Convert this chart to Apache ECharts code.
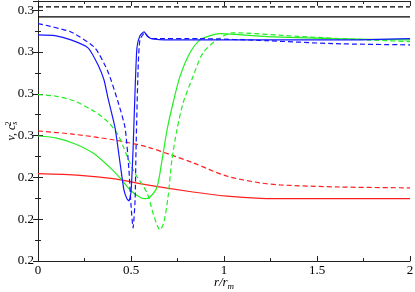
<!DOCTYPE html>
<html><head><meta charset="utf-8">
<script src="https://cdn.jsdelivr.net/npm/echarts@6/dist/echarts.min.js"></script>
<style>html,body{margin:0;padding:0;background:#fff}#c{width:415px;height:292px}</style>
</head><body><div id="c"></div>
<script>
// x tick labels and y tick labels (as printed in the reference)
const xTickLabels = ['0', '0.5', '1', '1.5', '2'];
const yTickLabels = ['0.2', '0.2', '0.2', '0.3', '0.3', '0.3', '0.3'];

// Black reference lines
const blackSolidX = [0, 2];
const blackSolidY = [0.2784, 0.2784];
const blackDashX = [0, 2];
const blackDashY = [0.2808, 0.2808];

// Blue solid
const blueSolidX = [0, 0.091, 0.177, 0.269, 0.323, 0.355, 0.376, 0.414, 0.441, 0.462, 0.478, 0.489, 0.5, 0.511, 0.522, 0.532, 0.548, 0.570, 0.586, 0.608, 0.710, 1.194, 1.677, 2.0];
const blueSolidY = [0.2741, 0.2739, 0.2729, 0.2710, 0.2669, 0.2633, 0.2590, 0.2519, 0.2435, 0.2370, 0.2349, 0.2344, 0.2365, 0.2466, 0.2610, 0.2710, 0.2739, 0.2748, 0.2739, 0.2732, 0.2729, 0.2729, 0.2729, 0.2732];

// Blue dashed
const blueDashX = [0, 0.177, 0.306, 0.376, 0.430, 0.468, 0.489, 0.5, 0.511, 0.522, 0.527, 0.538, 0.548, 0.575, 0.591, 0.613, 0.871, 1.231, 1.586, 2.0];
const blueDashY = [0.2768, 0.2748, 0.2710, 0.2653, 0.2581, 0.2519, 0.2418, 0.2334, 0.2279, 0.2346, 0.2466, 0.2657, 0.2729, 0.2746, 0.2737, 0.2732, 0.2732, 0.2727, 0.2720, 0.2717];

// Green solid
const greenSolidX = [0, 0.1, 0.2, 0.3, 0.4, 0.45, 0.5, 0.55, 0.575, 0.602, 0.640, 0.667, 0.694, 0.726, 0.763, 0.817, 0.871, 0.925, 0.978, 1.231, 1.586, 2.0];
const greenSolidY = [0.2499, 0.2494, 0.2480, 0.2457, 0.2418, 0.2394, 0.2368, 0.2352, 0.2349, 0.2353, 0.2377, 0.2442, 0.2514, 0.2578, 0.2641, 0.2698, 0.2729, 0.2739, 0.2744, 0.2737, 0.2732, 0.2729];

// Green dashed
const greenDashX = [0, 0.1, 0.2, 0.306, 0.376, 0.430, 0.457, 0.511, 0.586, 0.618, 0.640, 0.656, 0.677, 0.699, 0.720, 0.747, 0.780, 0.833, 0.887, 0.962, 1.048, 1.409, 1.769, 2.0];
const greenDashY = [0.2598, 0.2594, 0.2582, 0.2557, 0.2533, 0.2502, 0.2475, 0.2418, 0.2363, 0.2315, 0.2286, 0.2274, 0.2293, 0.2353, 0.2442, 0.2514, 0.2578, 0.2641, 0.2698, 0.2729, 0.2746, 0.2737, 0.2729, 0.2725];

// Red dashed
const redDashX = [0, 0.177, 0.403, 0.586, 0.726, 0.833, 1.016, 1.194, 1.301, 1.624, 2.0];
const redDashY = [0.2511, 0.2504, 0.2490, 0.2473, 0.2452, 0.2435, 0.2403, 0.2387, 0.2382, 0.2377, 0.2375];

// Red solid
const redSolidX = [0, 0.226, 0.403, 0.586, 0.833, 1.016, 1.194, 1.409, 2.0];
const redSolidY = [0.2409, 0.2405, 0.2397, 0.2382, 0.2365, 0.2355, 0.2350, 0.2349, 0.2349];

const zip = (xs, ys) => xs.map((x, i) => [x, ys[i]]);
const FONT = 'Liberation Serif';
const AX = '#222';

function line(xs, ys, color, dashed, smooth) {
  return {
    type: 'line', data: zip(xs, ys), showSymbol: false, symbol: 'none',
    smooth: smooth, silent: true, animation: false,
    lineStyle: { color: color, width: 1.2, type: dashed ? [5, 3] : 'solid' }
  };
}

const chart = echarts.init(document.getElementById('c'), null, { renderer: 'canvas' });
const xCommon = {
  type: 'value', min: 0, max: 2, interval: 0.5,
  axisLine: { show: true, lineStyle: { color: AX, width: 1 } },
  axisTick: { show: true, inside: true, length: 5, lineStyle: { color: AX } },
  minorTick: { show: true, splitNumber: 2, length: 3, lineStyle: { color: AX } },
  splitLine: { show: false }
};
const yCommon = {
  type: 'value', min: 0.22, max: 0.2822, interval: 0.01,
  axisLine: { show: true, lineStyle: { color: AX, width: 1 } },
  axisTick: { show: true, inside: true, length: 5, lineStyle: { color: AX } },
  minorTick: { show: true, splitNumber: 2, length: 3, lineStyle: { color: AX } },
  splitLine: { show: false }
};
function yLab(v) {
  const k = (v - 0.22) / 0.01;
  if (Math.abs(k - Math.round(k)) > 1e-6) return '';
  return yTickLabels[Math.round(k)] || '';
}
function xLab(v) {
  const k = v / 0.5;
  if (Math.abs(k - Math.round(k)) > 1e-6) return '';
  return xTickLabels[Math.round(k)] || '';
}

chart.setOption({
  animation: false,
  backgroundColor: '#fff',
  textStyle: { fontFamily: FONT },
  grid: { left: 38, right: 5, top: 1, bottom: 31, containLabel: false, outerBoundsMode: 'none' },
  xAxis: [
    Object.assign({}, xCommon, {
      position: 'bottom',
      axisLabel: { show: true, formatter: xLab, fontFamily: FONT, fontSize: 13, color: '#000', margin: 3 },
      name: '{i|r/r}{s|m}', nameLocation: 'middle', nameGap: 14, nameMoveOverlap: false,
      nameTextStyle: {
        fontFamily: FONT, fontSize: 13, color: '#000',
        rich: {
          i: { fontFamily: FONT, fontStyle: 'italic', fontSize: 13, lineHeight: 16, color: '#000' },
          s: { fontFamily: FONT, fontStyle: 'italic', fontSize: 9, lineHeight: 16, verticalAlign: 'bottom', color: '#000' }
        }
      }
    }),
    Object.assign({}, xCommon, { position: 'top', axisLabel: { show: false } })
  ],
  yAxis: [
    Object.assign({}, yCommon, {
      position: 'left',
      axisLabel: { show: true, formatter: yLab, fontFamily: FONT, fontSize: 13, color: '#000', margin: 4 },
      name: '{i|v, c}{s|s}{p|2}', nameLocation: 'middle', nameGap: 19, nameRotate: 90, nameMoveOverlap: false,
      nameTextStyle: {
        fontFamily: FONT, fontSize: 12, color: '#000',
        rich: {
          i: { fontFamily: FONT, fontStyle: 'italic', fontSize: 12, lineHeight: 14, color: '#000' },
          s: { fontFamily: FONT, fontStyle: 'italic', fontSize: 8, lineHeight: 14, verticalAlign: 'bottom', color: '#000' },
          p: { fontFamily: FONT, fontSize: 8, lineHeight: 14, verticalAlign: 'top', color: '#000', padding: [0, 0, 0, -4] }
        }
      }
    }),
    Object.assign({}, yCommon, { position: 'right', axisLabel: { show: false } })
  ],
  series: [
    line(blackDashX, blackDashY, '#000', true, false),
    line(blackSolidX, blackSolidY, '#000', false, false),
    line(redSolidX, redSolidY, '#ff2020', false, 0.3),
    line(redDashX, redDashY, '#ff2020', true, 0.3),
    line(greenSolidX, greenSolidY, '#22ee22', false, 0.25),
    line(greenDashX, greenDashY, '#22ee22', true, 0.25),
    line(blueSolidX, blueSolidY, '#1515ff', false, 0.2),
    line(blueDashX, blueDashY, '#1515ff', true, 0.2)
  ]
});
</script></body></html>
